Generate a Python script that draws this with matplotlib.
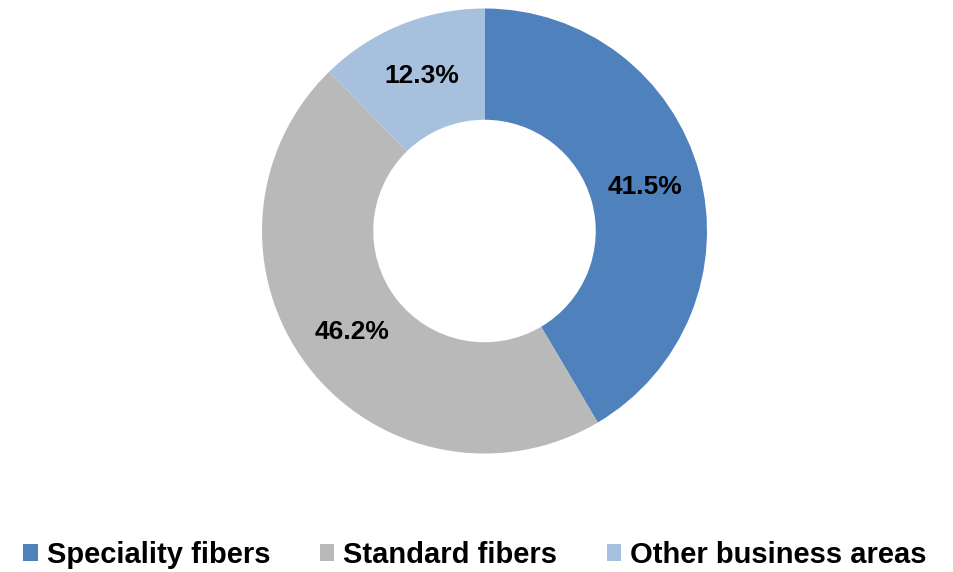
import matplotlib
matplotlib.use("Agg")
import matplotlib.pyplot as plt
from matplotlib.patches import Patch

categories = ["Speciality fibers", "Standard fibers", "Other business areas"]
shares = [41.5, 46.2, 12.3]
colors = ["#4F81BD", "#B9B9B9", "#A7C0DE"]

plt.rcParams["font.family"] = ["Liberation Sans", "DejaVu Sans"]

W, H = 954, 572
fig = plt.figure(figsize=(W / 100, H / 100), dpi=100)

cx, cy, r = 484.5, 231, 222.5
ax = fig.add_axes([(cx - r) / W, (H - cy - r) / H, 2 * r / W, 2 * r / H])

wedges, texts, autotexts = ax.pie(
    shares,
    colors=colors,
    startangle=90,
    counterclock=False,
    radius=1.0,
    autopct=lambda p: f"{p:.1f}%",
    pctdistance=0.75,
    wedgeprops=dict(width=0.5, linewidth=0),
    textprops=dict(fontsize=19, fontweight="bold", color="black"),
)
ax.set_xlim(-1, 1)
ax.set_ylim(-1, 1)
ax.set_aspect("equal")
ax.axis("off")

handles = [Patch(facecolor=c, edgecolor="none") for c in colors]
fig.legend(
    handles,
    categories,
    loc="center",
    bbox_to_anchor=(475 / W, 1 - 555 / H),
    ncol=3,
    frameon=False,
    handlelength=0.5,
    handleheight=0.5,
    handletextpad=0.3,
    columnspacing=1.7,
    prop=dict(size=21, weight="bold"),
)

fig.savefig("out.png", dpi=100)
